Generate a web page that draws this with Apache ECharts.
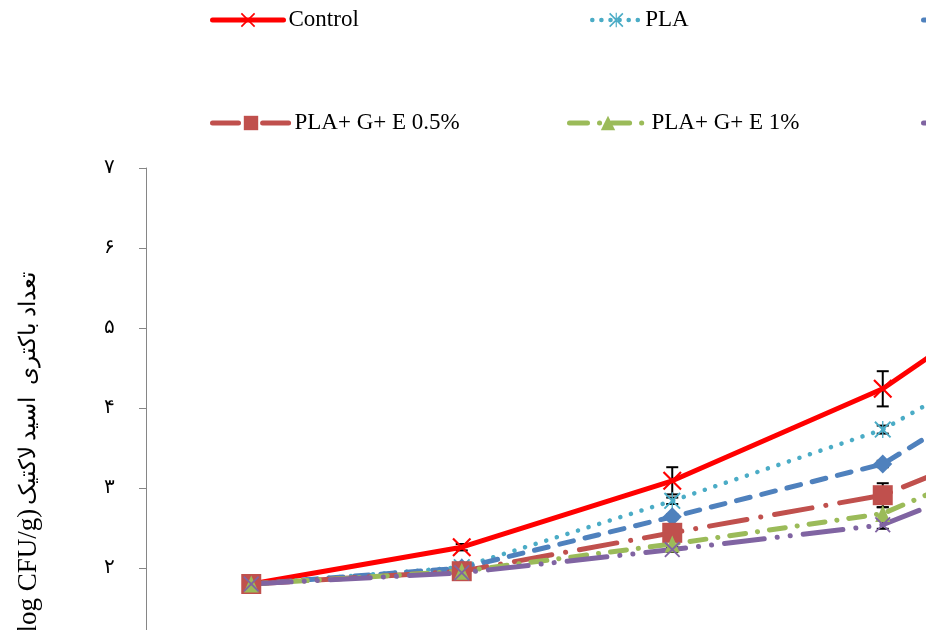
<!DOCTYPE html>
<html>
<head>
<meta charset="utf-8">
<script src="https://cdn.jsdelivr.net/npm/echarts@6/dist/echarts.min.js"></script>
<style>
  html, body { margin: 0; padding: 0; overflow: hidden; background: #ffffff; }
  #chart { width: 1250px; height: 800px; }
</style>
</head>
<body>
<div id="chart"></div>
<script>
// Storage days (x categories) and Persian tick labels for the count axis
const days = ['۰', '۷', '۱۴', '۲۱', '۲۸'];
const yTickLabels = ['۰', '۱', '۲', '۳', '۴', '۵', '۶', '۷'];
const seriesNames = ['Control', 'PLA', 'PLA+ G', 'PLA+ G+ E 0.5%', 'PLA+ G+ E 1%', 'PLA+ G+ E 1.5%'];
const yTitleFa = 'تعداد باکتری  اسید لاکتیک';
const yTitleUnit = '(log CFU/g)';

// Lactic acid bacteria counts (log CFU/g)
const control = [1.80, 2.26, 3.09, 4.24, 6.05];
const pla     = [1.80, 2.01, 2.84, 3.73, 5.22];
const plaG    = [1.80, 2.00, 2.64, 3.30, 4.90];
const plaGE05 = [1.80, 1.96, 2.44, 2.91, 3.97];
const plaGE1  = [1.80, 1.96, 2.30, 2.68, 3.80];
const plaGE15 = [1.80, 1.94, 2.23, 2.54, 3.58];

// Standard deviations
const errControl = [0.03, 0.04, 0.17, 0.22, 0.25];
const errPla     = [0.02, 0.03, 0.04, 0.05, 0.10];
const errPlaG    = [0.02, 0.02, 0.03, 0.04, 0.10];
const errGE05    = [0.02, 0.02, 0.05, 0.15, 0.10];
const errGE1     = [0.02, 0.02, 0.04, 0.08, 0.10];
const errGE15    = [0.02, 0.02, 0.03, 0.05, 0.10];

const SERIF = '"Liberation Serif", "Times New Roman", "DejaVu Serif", serif';

// Marker shapes not built into ECharts
const CROSS = 'path://M0,8 L8,0 L100,92 L92,100 Z M92,0 L100,8 L8,100 L0,92 Z';
const ASTERISK = 'path://M0,8 L8,0 L100,92 L92,100 Z M92,0 L100,8 L8,100 L0,92 Z M46,0 L54,0 L54,100 L46,100 Z';

const styles = [
  { color: '#FF0000', type: 'solid', width: 5, symbol: CROSS, size: 19 },
  { color: '#4BACC6', type: [0.1, 11], width: 4.5, symbol: ASTERISK, size: 17 },
  { color: '#4F81BD', type: [14, 12], width: 5, symbol: 'diamond', size: [19, 19] },
  { color: '#C0504D', type: [38, 14, 0.1, 14], width: 5, symbol: 'rect', size: 20 },
  { color: '#9BBB59', type: [16, 12, 0.1, 12], width: 5, symbol: 'triangle', size: [15, 17] },
  { color: '#8064A2', type: [40, 13, 0.1, 13, 0.1, 13], width: 5, symbol: CROSS, size: 16 }
];
// Legend swatches use shorter dash patterns
const legendDash = ['solid', [0.1, 9], [10, 9], [26, 12, 0.1, 12], [18, 12, 0.1, 12], [26, 10, 0.1, 10, 0.1, 10]];
const values = [control, pla, plaG, plaGE05, plaGE1, plaGE15];
const errors = [errControl, errPla, errPlaG, errGE05, errGE1, errGE15];

function errorBars(vals, errs) {
  return {
    type: 'custom',
    silent: true,
    z: 1,
    data: vals.map((v, i) => [i, v, errs[i]]),
    renderItem: function (params, api) {
      const i = api.value(0), v = api.value(1), e = api.value(2);
      const top = api.coord([i, v + e]);
      const bot = api.coord([i, v - e]);
      const hw = 6;
      const st = { stroke: '#000000', lineWidth: 2 };
      return {
        type: 'group',
        children: [
          { type: 'line', shape: { x1: top[0], y1: top[1], x2: bot[0], y2: bot[1] }, style: st },
          { type: 'line', shape: { x1: top[0] - hw, y1: top[1], x2: top[0] + hw, y2: top[1] }, style: st },
          { type: 'line', shape: { x1: bot[0] - hw, y1: bot[1], x2: bot[0] + hw, y2: bot[1] }, style: st }
        ]
      };
    }
  };
}

const lineSeries = seriesNames.map((name, k) => ({
  name: name,
  type: 'line',
  z: 2,
  data: values[k],
  symbol: styles[k].symbol,
  symbolSize: styles[k].size,
  showAllSymbol: true,
  animation: false,
  itemStyle: { color: styles[k].color, opacity: 1 },
  lineStyle: { color: styles[k].color, width: styles[k].width, type: styles[k].type, cap: 'round', join: 'round' }
}));

const legendSlots = [
  { left: 210, top: 8, itemWidth: 71 },
  { left: 590, top: 8, itemWidth: 48 },
  { left: 921, top: 8, itemWidth: 48 },
  { left: 210, top: 111, itemWidth: 77 },
  { left: 567, top: 111, itemWidth: 77 },
  { left: 921, top: 111, itemWidth: 77 }
];

const legends = seriesNames.map((name, k) => ({
  data: [name],
  left: legendSlots[k].left,
  top: legendSlots[k].top,
  padding: 0,
  itemWidth: legendSlots[k].itemWidth,
  itemHeight: 18,
  selectedMode: false,
  lineStyle: { color: styles[k].color, width: styles[k].width, type: legendDash[k], cap: 'round' },
  itemStyle: { color: styles[k].color },
  textStyle: { fontFamily: SERIF, fontSize: 23, color: '#000000', lineHeight: 24 }
}));

const chart = echarts.init(document.getElementById('chart'), null, { renderer: 'canvas' });
chart.setOption({
  animation: false,
  backgroundColor: '#ffffff',
  legend: legends,
  grid: { left: 146, top: 168, right: 51.5, bottom: 72, containLabel: false },
  xAxis: {
    type: 'category',
    data: days,
    boundaryGap: true,
    axisLine: { lineStyle: { color: '#868686', width: 1 } },
    axisTick: { show: true, lineStyle: { color: '#868686' } },
    axisLabel: { fontFamily: SERIF, fontSize: 20, color: '#000000' }
  },
  yAxis: {
    type: 'value',
    min: 0,
    max: 7,
    interval: 1,
    name: '{u|' + yTitleUnit + '} {f|' + yTitleFa + '}',
    nameLocation: 'middle',
    nameRotate: 90,
    nameGap: 104,
    nameTextStyle: {
      color: '#000000',
      padding: [0, 18, 0, 0],
      rich: {
        u: { fontFamily: SERIF, fontSize: 27, color: '#000000' },
        f: { fontFamily: SERIF, fontSize: 23, color: '#000000' }
      }
    },
    axisLine: { show: true, lineStyle: { color: '#868686', width: 1 } },
    axisTick: { show: true, inside: false, length: 7, lineStyle: { color: '#868686' } },
    splitLine: { show: false },
    axisLabel: {
      margin: 31,
      fontFamily: SERIF,
      fontSize: 20,
      color: '#000000',
      padding: [0, 0, 10, 0],
      formatter: function (v) { return yTickLabels[Math.round(v)]; }
    }
  },
  series: errors.map((e, k) => errorBars(values[k], e)).concat(lineSeries)
});
</script>
</body>
</html>
